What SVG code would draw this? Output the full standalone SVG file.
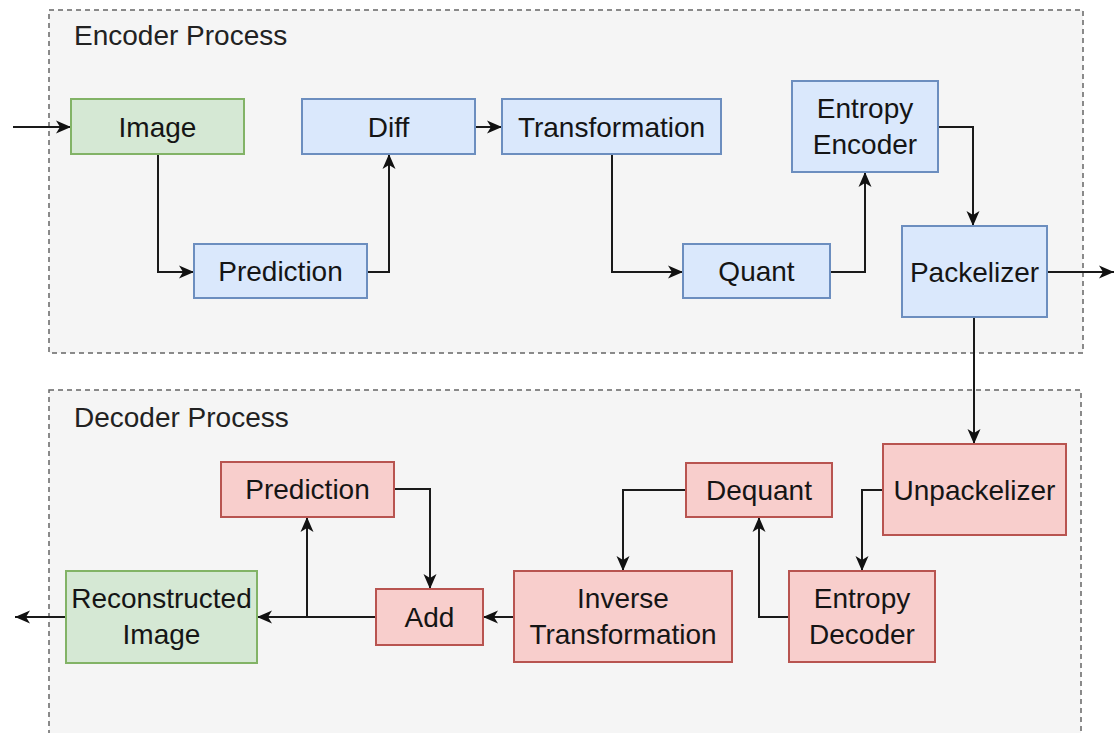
<svg xmlns="http://www.w3.org/2000/svg" width="1115" height="733" viewBox="0 0 1115 733">
  <style>
    .grp { fill: #f5f5f5; stroke: #666666; stroke-width: 1.5; stroke-dasharray: 5 4; }
    .title { font-family: "Liberation Sans", Arial, sans-serif; font-size: 28px; fill: #222222; }
    .lbl { font-family: "Liberation Sans", Arial, sans-serif; font-size: 28px; fill: #151515; text-anchor: middle; }
    .blue { fill: #dae8fc; stroke: #6c8ebf; stroke-width: 2; }
    .green { fill: #d5e8d4; stroke: #82b366; stroke-width: 2; }
    .red { fill: #f8cecc; stroke: #b85450; stroke-width: 2; }
    .edge { fill: none; stroke: #1a1a1a; stroke-width: 2; marker-end: url(#arrow); }
  </style>
  <defs>
    <!-- classic notched arrowhead, tip at the path end -->
    <marker id="arrow" markerUnits="userSpaceOnUse" markerWidth="16" markerHeight="14" refX="15" refY="7" orient="auto">
      <path d="M0,0.5 L15,7 L0,13.5 L4,7 Z" fill="#111111"/>
    </marker>
  </defs>

  <rect width="1115" height="733" fill="#ffffff"/>

  <!-- process containers -->
  <g id="encoder-process">
    <rect class="grp" x="49" y="10" width="1034" height="343"/>
    <text class="title" x="74" y="45">Encoder Process</text>
  </g>
  <g id="decoder-process">
    <rect class="grp" x="49" y="390" width="1032" height="360"/>
    <text class="title" x="74" y="427">Decoder Process</text>
  </g>

  <!-- connectors -->
  <g id="connectors">
    <path class="edge" d="M13,127 H71"/>
    <path class="edge" d="M158,154 V272 H194"/>
    <path class="edge" d="M367,272 H389 V154"/>
    <path class="edge" d="M475,127 H502"/>
    <path class="edge" d="M612,154 V272 H683"/>
    <path class="edge" d="M830,272 H865 V172"/>
    <path class="edge" d="M938,127 H973 V226"/>
    <path class="edge" d="M1047,272 H1114"/>
    <path class="edge" d="M974,317 V444"/>
    <path class="edge" d="M883,490 H862 V571"/>
    <path class="edge" d="M789,617 H759 V517"/>
    <path class="edge" d="M686,490 H623 V571"/>
    <path class="edge" d="M514,617 H483"/>
    <path class="edge" d="M376,617 H257"/>
    <path class="edge" d="M307,617 V517"/>
    <path class="edge" d="M394,489 H430 V589"/>
    <path class="edge" d="M66,617 H15"/>
  </g>

  <!-- encoder nodes -->
  <g id="image">
    <rect class="green" x="71" y="99" width="173" height="55"/>
    <text class="lbl" x="157.5" y="137">Image</text>
  </g>
  <g id="prediction-enc">
    <rect class="blue" x="194" y="244" width="173" height="54"/>
    <text class="lbl" x="280.5" y="281">Prediction</text>
  </g>
  <g id="diff">
    <rect class="blue" x="302" y="99" width="173" height="55"/>
    <text class="lbl" x="388.5" y="137">Diff</text>
  </g>
  <g id="transformation">
    <rect class="blue" x="502" y="99" width="219" height="55"/>
    <text class="lbl" x="611.5" y="137">Transformation</text>
  </g>
  <g id="quant">
    <rect class="blue" x="683" y="244" width="147" height="54"/>
    <text class="lbl" x="756.5" y="281">Quant</text>
  </g>
  <g id="entropy-encoder">
    <rect class="blue" x="792" y="81" width="146" height="91"/>
    <text class="lbl" x="865" y="118">Entropy</text>
    <text class="lbl" x="865" y="154">Encoder</text>
  </g>
  <g id="packelizer">
    <rect class="blue" x="902" y="226" width="145" height="91"/>
    <text class="lbl" x="974.5" y="282">Packelizer</text>
  </g>

  <!-- decoder nodes -->
  <g id="unpackelizer">
    <rect class="red" x="883" y="444" width="183" height="91"/>
    <text class="lbl" x="974.5" y="500">Unpackelizer</text>
  </g>
  <g id="entropy-decoder">
    <rect class="red" x="789" y="571" width="146" height="91"/>
    <text class="lbl" x="862" y="608">Entropy</text>
    <text class="lbl" x="862" y="644">Decoder</text>
  </g>
  <g id="dequant">
    <rect class="red" x="686" y="463" width="146" height="54"/>
    <text class="lbl" x="759" y="500">Dequant</text>
  </g>
  <g id="inverse-transformation">
    <rect class="red" x="514" y="571" width="218" height="91"/>
    <text class="lbl" x="623" y="608">Inverse</text>
    <text class="lbl" x="623" y="644">Transformation</text>
  </g>
  <g id="add">
    <rect class="red" x="376" y="589" width="107" height="56"/>
    <text class="lbl" x="429.5" y="627">Add</text>
  </g>
  <g id="prediction-dec">
    <rect class="red" x="221" y="462" width="173" height="55"/>
    <text class="lbl" x="307.5" y="499">Prediction</text>
  </g>
  <g id="reconstructed-image">
    <rect class="green" x="66" y="571" width="191" height="92"/>
    <text class="lbl" x="161.5" y="608">Reconstructed</text>
    <text class="lbl" x="161.5" y="644">Image</text>
  </g>
</svg>
